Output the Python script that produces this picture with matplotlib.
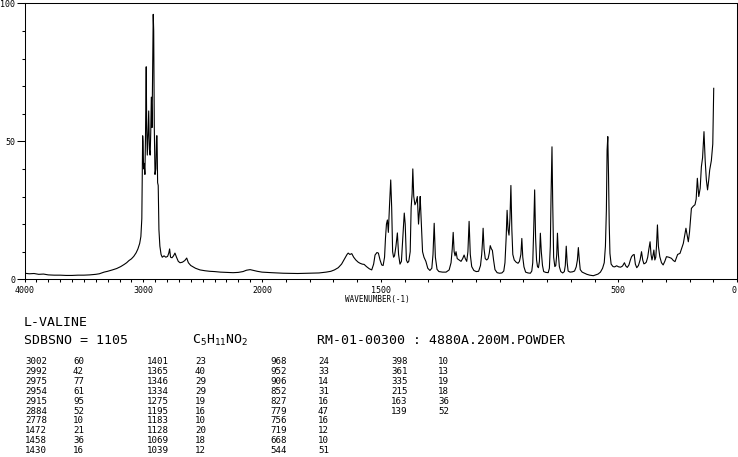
import matplotlib
matplotlib.use("Agg")
import matplotlib.pyplot as plt
import numpy as np

# espectro Raman (cm-1, intensidad relativa)
wn = [4000, 3960, 3920, 3880, 3840, 3800, 3750, 3700, 3650, 3600, 3550, 3500,
      3450, 3400, 3370, 3330, 3300, 3260, 3224, 3190, 3160, 3140, 3120, 3100,
      3080, 3060, 3045, 3030, 3020, 3012, 3008, 3005, 3002, 2997, 2992, 2986,
      2981, 2975, 2971, 2966, 2960, 2954, 2948, 2942, 2937, 2932, 2926, 2920,
      2916, 2912, 2907, 2901, 2894, 2888, 2884, 2879, 2874, 2868, 2860, 2850,
      2840, 2825, 2810, 2795, 2785, 2778, 2770, 2758, 2745, 2733, 2720, 2705,
      2690, 2670, 2650, 2634, 2620, 2600, 2560, 2522, 2480, 2440, 2400, 2350,
      2300, 2244, 2200, 2160, 2130, 2100, 2070, 2040, 2000,
      1960, 1911, 1850, 1800, 1760, 1730, 1710, 1695, 1679, 1665, 1652, 1642,
      1637, 1630, 1622, 1614, 1605, 1595, 1587, 1578, 1570, 1560, 1548, 1538,
      1530, 1524, 1516, 1510, 1503, 1496, 1490, 1484, 1480, 1476, 1472, 1468,
      1463, 1458, 1454, 1450, 1446, 1442, 1436, 1430, 1425, 1419, 1413, 1408,
      1404, 1401, 1397, 1392, 1387, 1382, 1376, 1372, 1368, 1365, 1361, 1356,
      1351, 1346, 1341, 1336, 1334, 1329, 1324, 1318, 1310, 1302, 1293, 1285,
      1280, 1275, 1270, 1263, 1255, 1240, 1225, 1212, 1204, 1199, 1195, 1191,
      1187, 1183, 1178, 1170, 1162, 1155, 1149, 1144, 1138, 1133, 1128, 1123,
      1117, 1108, 1098, 1088, 1080, 1075, 1072, 1069, 1065, 1060, 1054, 1048,
      1043, 1039, 1034, 1030, 1025, 1019, 1010, 1000, 990, 982, 977, 972,
      968, 964, 960, 956, 952, 948, 944, 938, 930, 922, 916, 910,
      906, 902, 897, 890, 880, 870, 864, 860, 856, 852, 848, 844,
      840, 836, 832, 828, 824, 819, 814, 805, 795, 790, 786, 783,
      779, 776, 772, 767, 763, 759, 756, 752, 748, 742, 734, 727,
      723, 719, 715, 711, 703, 693, 684, 677, 672, 668, 664, 660,
      652, 642, 632, 620, 605, 595, 585, 575, 566, 559, 554, 550,
      547, 544, 541, 538, 535, 530, 522, 515, 507, 498, 490, 482,
      474, 468, 462, 455, 449, 444, 438, 433, 428, 422, 415, 408,
      402, 397, 392, 387, 382, 376, 371, 366, 362, 358, 354, 350,
      346, 342, 339, 335, 331, 325, 318, 311, 304, 297, 287, 276,
      268, 261, 250, 240, 232, 226, 220, 215, 210, 205, 200, 192,
      184, 177, 172, 167, 161, 155, 150, 145, 139, 134, 129, 124,
      119, 115, 108, 102, 98]
inten = [2.2, 2.0, 2.1, 1.8, 1.9, 1.6, 1.5, 1.5, 1.4, 1.4, 1.5, 1.5,
         1.6, 1.8, 2.0, 2.6, 2.9, 3.4, 3.9, 4.6, 5.4, 6.0, 6.8, 7.4,
         8.3, 9.6, 11.0, 13.0, 15.5, 22, 40, 52, 50, 40, 42, 38,
         52, 77, 55, 45, 52, 61, 47, 45, 53, 66, 55, 80,
         96, 90, 55, 38, 40, 52, 52, 35, 34, 18, 12, 9,
         8, 8.5, 8, 8.3, 9.5, 11, 8, 7.8, 8.5, 9.5, 8, 6.5,
         6, 6.2, 6.8, 7.7, 6, 5, 4, 3.4, 3.1, 2.9, 2.8, 2.6,
         2.5, 2.4, 2.5, 2.8, 3.3, 3.5, 3.2, 2.9, 2.6,
         2.4, 2.2, 2.1, 2.2, 2.3, 2.6, 2.9, 3.4, 4.2, 5.5, 7.5, 9.0,
         9.5, 9.0, 9.3, 8.0, 7.0, 6.2, 5.8, 5.5, 5.4, 4.6, 3.8, 3.4,
         5.5, 8.8, 9.7, 9.5, 7, 5.2, 5.0, 8, 15, 20, 21.5, 17,
         27, 36, 26, 10, 8, 8.5, 12, 16.8, 9, 5.5, 6.5, 14,
         20, 24, 20, 7, 6, 6.5, 10, 26, 31, 40, 30, 27,
         28, 30, 20, 26, 30, 20, 10, 8, 6.5, 4, 3.2, 4,
         9, 20.3, 8, 3.6, 2.8, 2.6, 2.6, 3.4, 6, 11, 17, 10,
         8.5, 10, 7.5, 7, 6.5, 7.5, 8.8, 7.5, 6.5, 10, 21, 9,
         4.6, 3.2, 2.8, 2.9, 5, 9, 13, 18.5, 11, 7.5, 7, 7.5,
         9.5, 12.2, 11, 10.5, 7, 3.5, 2.4, 2.2, 2.3, 3.0, 6, 15,
         25, 18, 16, 22, 34, 18, 9, 7, 6.2, 5.8, 6.5, 9,
         14.8, 8, 4.5, 2.6, 2.3, 2.2, 3.0, 6, 18, 32.4, 15, 7,
         4.6, 4.2, 6.5, 16.7, 10, 5, 2.8, 2.5, 2.4, 4, 12, 30,
         48, 28, 8, 4.6, 5, 9, 16.7, 9, 4.6, 2.8, 2.3, 2.8,
         5, 12, 6, 3, 2.6, 2.7, 3.0, 4.5, 7, 11.5, 7, 3.5,
         2.6, 2.2, 1.8, 1.5, 1.3, 1.6, 1.9, 2.6, 4.0, 6, 12, 25,
         46.8, 51.7, 38, 20, 9.4, 5.5, 4.6, 4.5, 4.9, 4.5, 4.4, 4.8,
         6, 4.8, 4.3, 5.2, 7, 8.2, 8.8, 9, 5.5, 4.2, 5, 7,
         10, 7, 5.6, 5.8, 6.2, 8, 11, 13.6, 9, 7, 8.5, 10.6,
         7, 8, 12, 19.7, 12, 8.2, 6, 5.2, 6.5, 8.2, 8, 7.6,
         6.8, 6.4, 9, 9.4, 11.5, 13, 16, 18.5, 16, 13.6, 17, 25.7,
         26.5, 27, 29, 36.6, 30, 33, 40.8, 44, 53.5, 43, 36, 32.4,
         36, 39.6, 43, 49, 69.2]

# tabla de picos
tab_wn = [3002, 2992, 2975, 2954, 2915, 2884, 2778, 1472, 1458, 1430,
          1401, 1365, 1346, 1334, 1275, 1195, 1183, 1128, 1069, 1039,
          968, 952, 906, 852, 827, 779, 756, 719, 668, 544,
          398, 361, 335, 215, 163, 139]
tab_int = [60, 42, 77, 61, 95, 52, 10, 21, 36, 16,
           23, 40, 29, 29, 19, 16, 10, 20, 18, 12,
           24, 33, 14, 31, 16, 47, 16, 12, 10, 51,
           10, 13, 19, 18, 36, 52]

xticks = list(range(0, 4001, 100))
xlabeled = [4000, 3000, 2000, 1500, 500, 0]

plt.rcParams['font.family'] = 'DejaVu Sans Mono'
plt.rcParams['mathtext.fontset'] = 'custom'
plt.rcParams['mathtext.rm'] = 'DejaVu Sans Mono'
plt.rcParams['mathtext.it'] = 'DejaVu Sans Mono'

W, H = 738, 457
fig = plt.figure(figsize=(W / 100, H / 100), dpi=100)
ax = fig.add_axes([24.5 / W, 1 - 279.3 / H, (737 - 24.5) / W, (279.3 - 3.3) / H])


# escala partida: 4000-2000 comprimida, 2000-0 al doble
def fwd(w):
    w = np.asarray(w, dtype=float)
    return np.where(w <= 2000, 2 * w, w + 2000)


def inv(u):
    u = np.asarray(u, dtype=float)
    return np.where(u <= 4000, u / 2, u - 2000)


ax.set_xscale('function', functions=(fwd, inv))
ax.plot(wn, inten, color='black', lw=0.8)
ax.set_xlim(4000, 0)
ax.set_ylim(0, 100)

ax.set_xticks(xticks)
ax.set_xticklabels([str(v) if v in xlabeled else '' for v in xticks])
ax.get_xticklabels()[0].set_ha('right')
ax.tick_params(axis='x', direction='out', length=2.4, width=0.75,
               labelsize=6, pad=2.2)
ax.set_yticks([0, 50, 100])
ax.set_yticklabels(['0', '50', '100'])
ax.set_yticks(range(0, 101, 10), minor=True)
ax.tick_params(axis='y', which='major', length=6, width=0.75,
               labelsize=6, pad=0.8)
ax.tick_params(axis='y', which='minor', length=2, width=0.75)
for s in ax.spines.values():
    s.set_linewidth(0.75)

fig.text(345 / W, 1 - 299.5 / H, 'WAVENUMBER(-1)', fontsize=5.5, va='center')


def px(x, y, s, size, **kw):
    fig.text(x / W, 1 - y / H, s, fontsize=size, va='center', ha='left', **kw)


px(24, 323, 'L-VALINE', 9.5)
px(24, 340, 'SDBSNO = 1105', 9.5)
px(192, 340, r'C$_5$H$_{11}$NO$_2$', 9.5)
px(317, 340, 'RM-01-00300 : 4880A.200M.POWDER', 9.5)

colx = [(25, 73), (147, 195), (270, 318), (391, 438)]
row0, dy = 362, 9.8
for i, (w, v) in enumerate(zip(tab_wn, tab_int)):
    c, r = divmod(i, 10)
    px(colx[c][0], row0 + r * dy, str(w), 6.6)
    px(colx[c][1], row0 + r * dy, str(v), 6.6)

fig.savefig('out.png', dpi=100)
